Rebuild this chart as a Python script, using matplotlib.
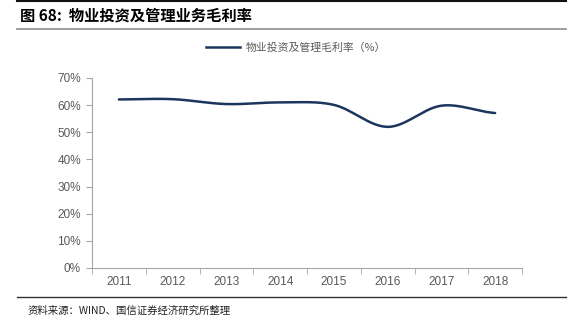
import matplotlib
matplotlib.use("Agg")
import matplotlib.pyplot as plt
import numpy as np
from matplotlib.lines import Line2D

plt.rcParams['font.family'] = ['Noto Sans CJK SC', 'DejaVu Sans']

years = ['2011', '2012', '2013', '2014', '2015', '2016', '2017', '2018']
margin = [62.1, 62.2, 60.4, 61.0, 60.1, 52.0, 59.8, 57.1]
series_name = '物业投资及管理毛利率（%）'
title = '图 68:  物业投资及管理业务毛利率'
source = '资料来源：WIND、国信证券经济研究所整理'

line_color = '#1b365d'
grey = '#595959'


def smooth(xs, ys, n=30):
    # Catmull-Rom style smoothing between the points (like Excel's smoothed line)
    xs = np.asarray(xs, float)
    ys = np.asarray(ys, float)
    px = np.concatenate([[2 * xs[0] - xs[1]], xs, [2 * xs[-1] - xs[-2]]])
    py = np.concatenate([[ys[0]], ys, [ys[-1]]])
    out_x, out_y = [], []
    t = np.linspace(0, 1, n)
    for i in range(1, len(px) - 2):
        p0, p1, p2, p3 = px[i - 1], px[i], px[i + 1], px[i + 2]
        q0, q1, q2, q3 = py[i - 1], py[i], py[i + 1], py[i + 2]
        bx = 0.5 * ((2 * p1) + (-p0 + p2) * t + (2 * p0 - 5 * p1 + 4 * p2 - p3) * t ** 2
                    + (-p0 + 3 * p1 - 3 * p2 + p3) * t ** 3)
        by = 0.5 * ((2 * q1) + (-q0 + q2) * t + (2 * q0 - 5 * q1 + 4 * q2 - q3) * t ** 2
                    + (-q0 + 3 * q1 - 3 * q2 + q3) * t ** 3)
        out_x.extend(bx)
        out_y.extend(by)
    return np.array(out_x), np.array(out_y)


fig = plt.figure(figsize=(5.79, 3.36), dpi=100)
ax = fig.add_axes([92 / 579, 1 - 268 / 336, 430 / 579, 190 / 336])

x = np.arange(len(years)) + 0.5
sx, sy = smooth(x, margin)
ax.plot(sx, sy, color=line_color, lw=1.8, solid_capstyle='round')

ax.set_xlim(0, len(years))
ax.set_ylim(0, 70)
ax.set_yticks(range(0, 71, 10))
ax.set_yticklabels([f'{v}%' for v in range(0, 71, 10)])
ax.set_xticks(x)
ax.set_xticklabels(years)
ax.set_xticks(np.arange(len(years) + 1), minor=True)
ax.tick_params(axis='x', which='major', length=0, pad=6)
ax.tick_params(axis='x', which='minor', length=4, color='#a6a6a6', direction='out')
ax.tick_params(axis='y', length=4, color='#a6a6a6', pad=4)
ax.tick_params(labelsize=8.5, labelcolor=grey)
for lab in ax.get_xticklabels() + ax.get_yticklabels():
    lab.set_family('Liberation Sans')
for s in ['top', 'right']:
    ax.spines[s].set_visible(False)
for s in ['left', 'bottom']:
    ax.spines[s].set_color('#a6a6a6')
    ax.spines[s].set_linewidth(0.8)

# legend above the plot
handle = Line2D([0], [0], color=line_color, lw=1.8)
fig.legend([handle], [series_name], loc='center', bbox_to_anchor=(296 / 579, 1 - 48 / 336),
           frameon=False, fontsize=7.8, labelcolor=grey, handlelength=3.2, handletextpad=0.5)

# header and footer
fig.text(20 / 579, 1 - 16 / 336, title, fontsize=11, fontweight='bold', va='center', ha='left')
fig.add_artist(Line2D([17 / 579, 566 / 579], [1 - 0.8 / 336] * 2, color='#111111', lw=1.5))
fig.add_artist(Line2D([17 / 579, 566 / 579], [1 - 29 / 336] * 2, color='#8c8c8c', lw=1.2))
fig.add_artist(Line2D([17 / 579, 566 / 579], [1 - 297 / 336] * 2, color='#333333', lw=1.0))
fig.text(28 / 579, 1 - 311 / 336, source, fontsize=7.5, va='center', ha='left', color='#222222')

fig.savefig('out.png', dpi=100)
